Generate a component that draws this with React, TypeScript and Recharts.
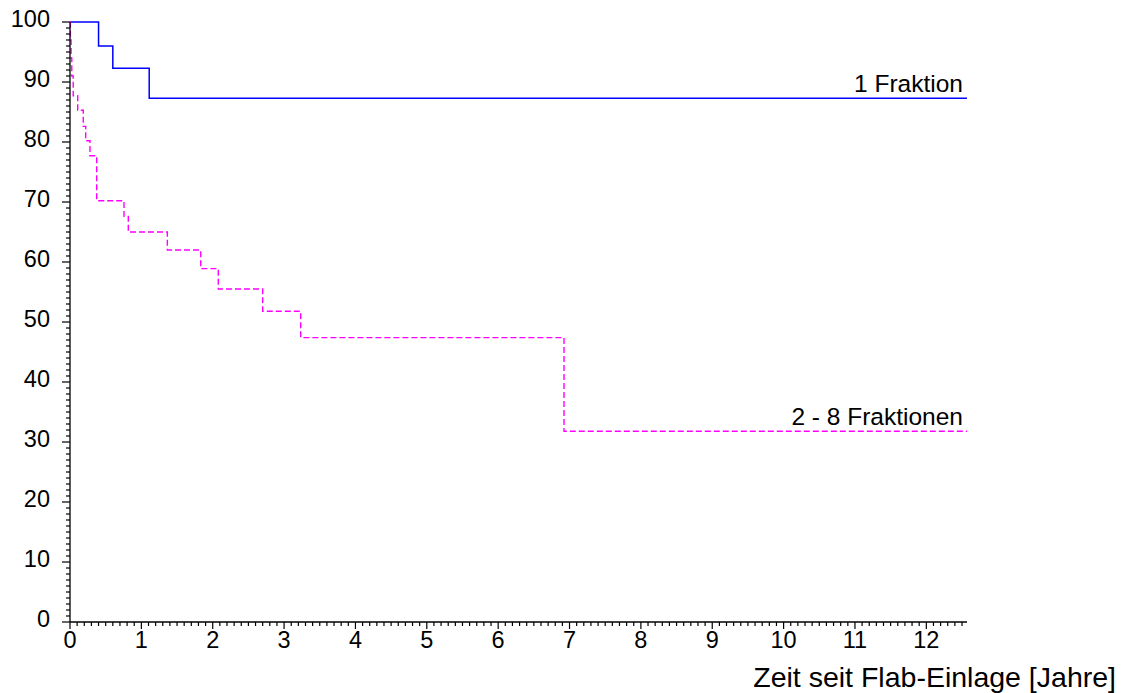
import { LineChart, Line, XAxis, YAxis, ReferenceDot } from 'recharts';

// Kaplan-Meier Kurven
const oneTime = [0, 0.4, 0.6, 1.11, 12.57];
const oneSurv = [100, 96.0, 92.3, 87.3, 87.3];

const multiTime = [
    0, 0.005, 0.015, 0.025, 0.045, 0.108, 0.186, 0.22, 0.28, 0.374, 0.757,
    0.817, 1.364, 1.832, 2.078, 2.7, 3.233, 6.923, 12.57,
];
const multiSurv = [
    100, 97, 94, 91, 87.7, 85.3, 82.6, 80.2, 77.7, 70.2, 67.6, 65.0, 62.0,
    58.9, 55.5, 51.8, 47.4, 31.8, 31.8,
];

const xMax = 12.57;
const xMinorTicks = Array.from({ length: 126 }, (_, i) => Math.round(i) / 10);
const yMinorTicks = Array.from({ length: 101 }, (_, i) => i);

const oneData = oneTime.map((t, i) => ({ t, s: oneSurv[i] }));
const multiData = multiTime.map((t, i) => ({ t, s: multiSurv[i] }));

const FONT = '"Liberation Sans", Arial, Helvetica, sans-serif';

const isMajor = (v: number, step: number) =>
    Math.abs(v / step - Math.round(v / step)) < 1e-6;

const XTick = (props: any) => {
    const { x, y, payload } = props;
    const major = isMajor(payload.value, 1);
    return (
        <g>
            <line x1={x} x2={x} y1={y} y2={y + (major ? 7 : 4)} stroke="#000" strokeWidth={1.2} />
            {major && (
                <text x={x} y={y + 26} textAnchor="middle" fontSize={23.5} fontFamily={FONT} fill="#000">
                    {Math.round(payload.value)}
                </text>
            )}
        </g>
    );
};

const YTick = (props: any) => {
    const { x, y, payload } = props;
    const major = isMajor(payload.value, 10);
    return (
        <g>
            <line x1={x - (major ? 8 : 4)} x2={x} y1={y} y2={y} stroke="#000" strokeWidth={1.2} />
            {major && (
                <text x={x - 20} y={y + 5} textAnchor="end" fontSize={23.5} fontFamily={FONT} fill="#000">
                    {Math.round(payload.value)}
                </text>
            )}
        </g>
    );
};

const seriesLabel = (text: string) => (props: any) => {
    const { viewBox } = props;
    return (
        <text
            x={viewBox.x - 4}
            y={viewBox.y - 6}
            textAnchor="end"
            fontSize={24.5}
            fontFamily={FONT}
            fill="#000"
        >
            {text}
        </text>
    );
};

const AxisTitle = () => (
    <text x={1116} y={687} textAnchor="end" fontSize={28.5} fontFamily={FONT} fill="#000">
        Zeit seit Flab-Einlage [Jahre]
    </text>
);

export default function App() {
    return (
        <div style={{ position: 'absolute', left: 0, top: 0, background: '#fff' }}>
            <LineChart
                width={1136}
                height={693}
                margin={{ top: 22, right: 169, bottom: 0, left: 0 }}
            >
                <XAxis
                    type="number"
                    dataKey="t"
                    domain={[0, xMax]}
                    ticks={xMinorTicks}
                    interval={0}
                    height={71}
                    tickSize={0}
                    tickMargin={0}
                    tickLine={false}
                    tick={<XTick />}
                    axisLine={{ stroke: '#000', strokeWidth: 1.3 }}
                    allowDataOverflow
                    label={<AxisTitle />}
                />
                <YAxis
                    type="number"
                    domain={[0, 100]}
                    ticks={yMinorTicks}
                    interval={0}
                    width={70}
                    tickSize={0}
                    tickMargin={0}
                    tickLine={false}
                    tick={<YTick />}
                    axisLine={{ stroke: '#000', strokeWidth: 1.3 }}
                />
                <Line
                    data={oneData}
                    dataKey="s"
                    type="stepAfter"
                    stroke="#0000ff"
                    strokeWidth={1.5}
                    dot={false}
                    activeDot={false}
                    isAnimationActive={false}
                />
                <Line
                    data={multiData}
                    dataKey="s"
                    type="stepAfter"
                    stroke="#ff00ff"
                    strokeWidth={1.4}
                    strokeDasharray="6 3"
                    dot={false}
                    activeDot={false}
                    isAnimationActive={false}
                />
                <ReferenceDot
                    x={xMax}
                    y={oneSurv[oneSurv.length - 1]}
                    r={0}
                    stroke="none"
                    fill="none"
                    label={seriesLabel('1 Fraktion')}
                />
                <ReferenceDot
                    x={xMax}
                    y={multiSurv[multiSurv.length - 1]}
                    r={0}
                    stroke="none"
                    fill="none"
                    label={seriesLabel('2 - 8 Fraktionen')}
                />
            </LineChart>
        </div>
    );
}
